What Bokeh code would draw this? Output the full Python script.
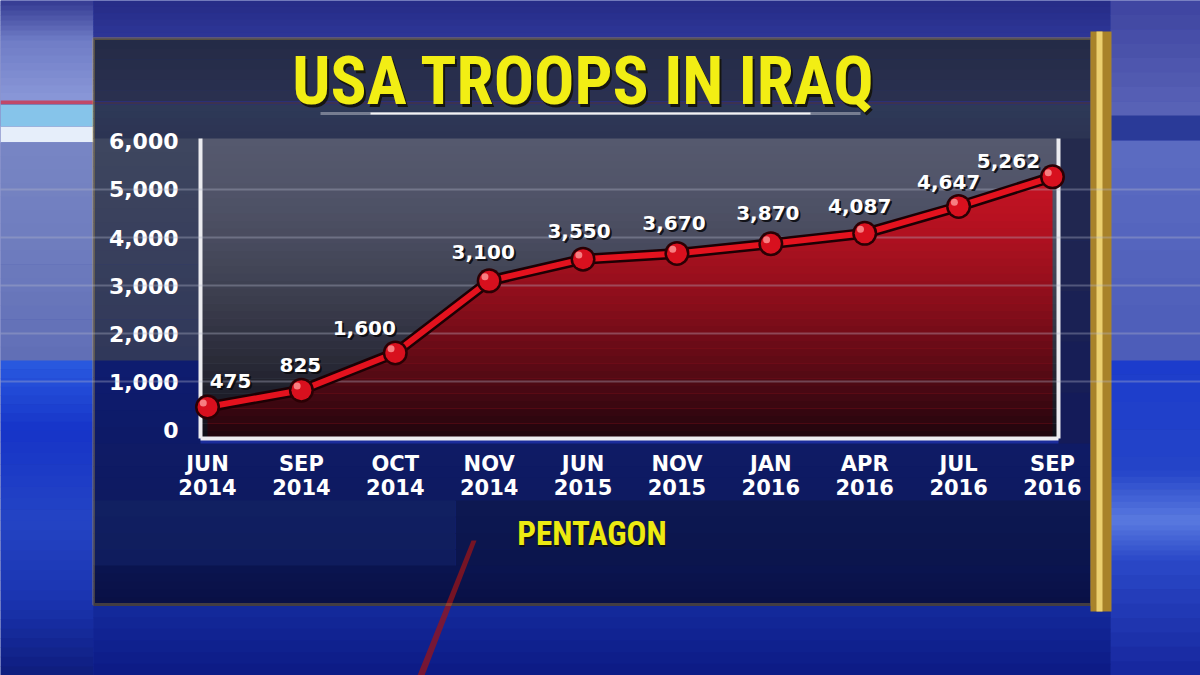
from bokeh.plotting import figure
from bokeh.models import (Range1d, FixedTicker, LinearAxis, BoxAnnotation, Label,
                          ColumnDataSource, PolyAnnotation)
from bokeh.core.properties import value
from bokeh.transform import dodge
from bokeh.embed import file_html
from bokeh.resources import INLINE

# ---------------- data ----------------
months = ["JUN", "SEP", "OCT", "NOV", "JUN", "NOV", "JAN", "APR", "JUL", "SEP"]
years = ["2014", "2014", "2014", "2014", "2015", "2015", "2016", "2016", "2016", "2016"]
troops = [475, 825, 1600, 3100, 3550, 3670, 3870, 4087, 4647, 5262]
troop_labels = ["475", "825", "1,600", "3,100", "3,550", "3,670", "3,870", "4,087", "4,647", "5,262"]
y_ticks = [0, 1000, 2000, 3000, 4000, 5000, 6000]
y_tick_labels = ["0", "1,000", "2,000", "3,000", "4,000", "5,000", "6,000"]
title_text = "USA TROOPS IN IRAQ"
source_text = "PENTAGON"

# ---------------- layout / style ----------------
label_dx = [23, -1, -31, -6, -4, -3, -3, -5, -10, -44]
label_dy = [-26, -25, -25, -29, -28, -30, -31, -27, -24, -16]

W, H = 1200, 675
CL, CR, CT, CB = 200, 1058, 138, 438          # chart area edges in pixels
XS, XE = -0.0746, 9.064                       # data values at chart edges
YS, YE = -180, 6060
SX = (XE - XS) / (CR - CL)
SY = (YE - YS) / (CB - CT)


def xd(px):
    return XS + (px - CL) * SX


def yd(py):
    return YS + (CB - py) * SY


def hexmix(c1, c2, t):
    a = [int(c1[i:i + 2], 16) for i in (1, 3, 5)]
    b = [int(c2[i:i + 2], 16) for i in (1, 3, 5)]
    return "#" + "".join("%02x" % int(round(a[k] + (b[k] - a[k]) * t)) for k in range(3))


p = figure(width=W, height=H, x_range=Range1d(xd(0), xd(W)), y_range=Range1d(yd(H), yd(0)),
           output_backend="svg", toolbar_location=None,
           min_border_left=0, min_border_right=0, min_border_top=0, min_border_bottom=0)
p.border_fill_color = "#1b2c9c"
p.background_fill_color = "#1b2c9c"
p.outline_line_color = None


def box(l, r, t, b, color, alpha=1.0, level="image", line_color=None, line_width=0):
    bx = BoxAnnotation(left=xd(l), right=xd(r), top=yd(t), bottom=yd(b),
                       fill_color=color, fill_alpha=alpha, level=level,
                       line_color=line_color, line_width=line_width)
    p.add_layout(bx)
    return bx


def vgrad(l, r, stops, n=6, level="image"):
    for i in range(len(stops) - 1):
        y0, c0 = stops[i]
        y1, c1 = stops[i + 1]
        for k in range(n):
            ta = y0 + (y1 - y0) * k / n
            tb = y0 + (y1 - y0) * (k + 1) / n
            box(l, r, ta, tb + 0.6, hexmix(c0, c1, (k + 0.5) / n), level=level)


# ---- studio background ----
vgrad(0, 93, [(0, "#343a92"), (40, "#6f7cc6"), (100, "#8a98d8")], n=8)
box(0, 93, 100, 104, "#c04868")
box(0, 93, 104, 126, "#86c4ea")
box(0, 93, 126, 142, "#e6eefa")
vgrad(0, 93, [(142, "#7886c4"), (250, "#6e7cbe"), (360, "#606eb6")], n=8)
vgrad(0, 93, [(360, "#2a5ae0"), (430, "#1634c8"), (520, "#2444c4"), (600, "#1a34b0"), (675, "#0e1c7c")], n=8)
vgrad(93, 1110, [(0, "#262c86"), (38, "#2e3698")], n=6)
vgrad(1110, 1200, [(0, "#3e44a0"), (115, "#5a64b8")], n=8)
box(1110, 1200, 115, 140, "#2a3a98")
vgrad(1110, 1200, [(140, "#5c6cc2"), (360, "#4c5cb8")], n=8)
vgrad(1110, 1200, [(360, "#1c3ccc"), (470, "#2444c8"), (520, "#5a7ae0"), (560, "#2a48c8"), (675, "#16269c")], n=8)
vgrad(93, 1110, [(605, "#142a9c"), (675, "#0c1a84")], n=6)

# ---- panel ----
vgrad(93, 1090, [(38, "#242a46"), (100, "#2a3150")], n=6)
box(93, 1090, 101, 104, "#3c3250")
vgrad(93, 1090, [(104, "#2e3a58"), (138, "#2c3352")], n=5)
vgrad(93, 200, [(138, "#3e465f"), (250, "#383f5c"), (360, "#30385a")], n=8)
vgrad(93, 200, [(360, "#0e1c70"), (443, "#0d1a66")], n=5)
vgrad(1058, 1090, [(138, "#262c4c"), (443, "#12195a")], n=6)
vgrad(93, 1090, [(443, "#0f1b66"), (500, "#0e1a60")], n=5)
vgrad(93, 455, [(500, "#112062"), (565, "#0f1c5c")], n=4)
vgrad(455, 1090, [(500, "#0d1852"), (565, "#0b154c")], n=4)
vgrad(93, 1090, [(565, "#0a1450"), (605, "#091044")], n=5)

# studio red streak seen through / below the panel
p.add_layout(PolyAnnotation(xs=[xd(471), xd(476), xd(424), xd(417)],
                            ys=[yd(540), yd(540), yd(675), yd(675)],
                            xs_units="data", ys_units="data",
                            fill_color="#9a1418", fill_alpha=0.75, line_color=None, level="image"))

# gold frame
box(93, 1091, 38, 604, None, alpha=0, line_color="#c9a43a", line_width=3)
box(1090, 1111, 31, 611, "#a8822a")
box(1096, 1102, 31, 611, "#ecd070")

# chart-area background
box(CL, CR, CT, CB, "#55596e")

xs = list(range(len(months)))

# area under the curve
p.varea(x=xs, y1=YS, y2=troops, fill_color="#cc1424", level="glyph")

# darkening gradient over chart area
N = 40
for i in range(N):
    t = (i + 0.5) / N
    top = YE - (YE - YS) * i / N
    bot = YE - (YE - YS) * (i + 1) / N
    p.add_layout(BoxAnnotation(left=XS, right=XE, top=top + 2, bottom=bot, fill_color="#05030a",
                               fill_alpha=0.88 * t ** 1.6, line_color=None, level="glyph"))

# grid
p.xgrid.visible = False
p.ygrid.ticker = FixedTicker(ticks=y_ticks[1:-1])
p.ygrid.bounds = (XS, XE)
p.ygrid.grid_line_color = "#b4b8cc"
p.ygrid.grid_line_alpha = 0.35
p.ygrid.grid_line_width = 2
p.ygrid.level = "guide"

# axes (fixed inside the canvas-wide frame)
tick_font = "DejaVu Sans"
p.yaxis.fixed_location = XS
p.yaxis.bounds = (YS, YE)
p.yaxis.ticker = FixedTicker(ticks=y_ticks)
p.yaxis.major_label_overrides = dict(zip(y_ticks, y_tick_labels))
p.xaxis.fixed_location = YS
p.xaxis.bounds = (XS, XE)
p.xaxis.ticker = FixedTicker(ticks=xs)
p.xaxis.major_label_overrides = {i: f"{m}\n{y}" for i, (m, y) in enumerate(zip(months, years))}
for ax in (p.xaxis[0], p.yaxis[0]):
    ax.axis_line_color = "#ececf0"
    ax.axis_line_width = 4
    ax.major_tick_line_color = None
    ax.minor_tick_line_color = None
    ax.major_label_text_color = "white"
    ax.major_label_text_font = tick_font
    ax.major_label_text_font_style = "bold"
p.yaxis.major_label_text_font_size = "22px"
p.yaxis.major_label_standoff = 16
p.xaxis.major_label_text_font_size = "21px"
p.xaxis.major_label_text_line_height = 1.0
p.xaxis.major_label_standoff = 7

right = LinearAxis(fixed_location=XE, bounds=(YS, YE), ticker=FixedTicker(ticks=[]),
                   axis_line_color="#ececf0", axis_line_width=4,
                   major_tick_line_color=None, minor_tick_line_color=None)
p.add_layout(right, "right")

# line and markers
p.line(xs, troops, line_color="#1c0004", line_width=11, level="annotation")
p.line(xs, troops, line_color="#e4121e", line_width=6, level="annotation")
p.scatter(xs, troops, size=25, fill_color="#2a0004", line_color=None, level="annotation")
p.scatter(xs, troops, size=20, fill_color="#d8101e", line_color=None, level="annotation")
hl = ColumnDataSource(dict(x=xs, y=troops))
p.scatter(x=dodge("x", -0.045, range=p.x_range), y=dodge("y", 85, range=p.y_range), source=hl,
          size=7, fill_color="#ff9a9a", fill_alpha=0.8, line_color=None, level="annotation")

# value labels
lab_font = value("DejaVu Sans")
shadow = ColumnDataSource(dict(x=xs, y=troops, t=troop_labels,
                               dx=[d + 2 for d in label_dx], dy=[d + 2 for d in label_dy]))
front = ColumnDataSource(dict(x=xs, y=troops, t=troop_labels, dx=label_dx, dy=label_dy))
p.text(x="x", y="y", text="t", x_offset="dx", y_offset="dy", source=shadow,
       text_font=lab_font, text_font_style="bold", text_font_size="20px",
       text_color="#08080c", text_alpha=0.85, text_align="center", text_baseline="middle",
       level="annotation")
p.text(x="x", y="y", text="t", x_offset="dx", y_offset="dy", source=front,
       text_font=lab_font, text_font_style="bold", text_font_size="20px",
       text_color="white", text_align="center", text_baseline="middle",
       level="annotation")

# title with shadow and underline
title_font = "Roboto Condensed, Liberation Sans"
p.add_layout(Label(x=xd(583.5), y=yd(80), x_offset=2, y_offset=-3, text=title_text,
                   text_align="center", text_baseline="middle", text_font=title_font,
                   text_font_style="bold", text_font_size="67px", text_color="#151510"))
p.add_layout(Label(x=xd(583.5), y=yd(80), text=title_text,
                   text_align="center", text_baseline="middle", text_font=title_font,
                   text_font_style="bold", text_font_size="67px", text_color="#f2ee14"))
box(320, 860, 111.5, 114.5, "#ffffff", alpha=0.35, level="annotation")
box(370, 810, 112, 114, "#ffffff", alpha=0.9, level="annotation")

# source
p.add_layout(Label(x=xd(591.5), y=yd(533), x_offset=1, y_offset=-2, text=source_text,
                   text_align="center", text_baseline="middle", text_font=title_font,
                   text_font_style="bold", text_font_size="33px", text_color="#101010"))
p.add_layout(Label(x=xd(591.5), y=yd(533), text=source_text,
                   text_align="center", text_baseline="middle", text_font=title_font,
                   text_font_style="bold", text_font_size="33px", text_color="#ecea12"))

open("out.html", "w").write(file_html(p, INLINE))
